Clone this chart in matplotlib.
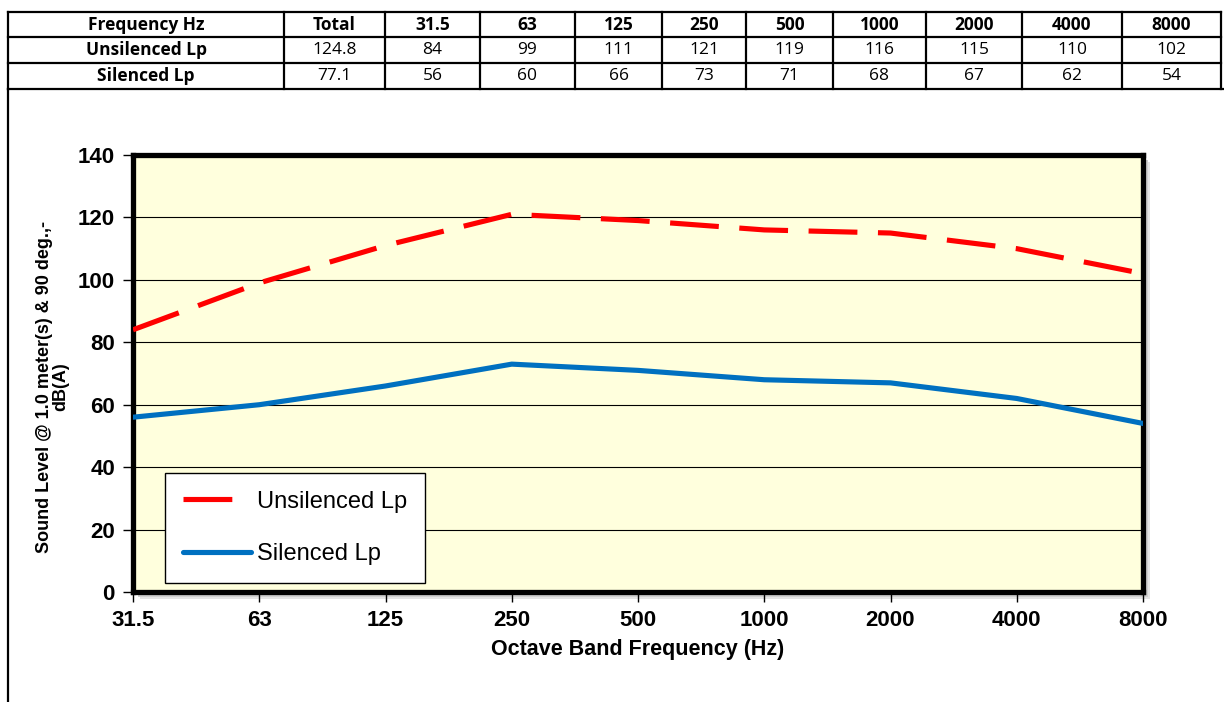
import matplotlib.pyplot as plt
from matplotlib.lines import Line2D
from matplotlib.patches import Rectangle

# ---- data ----
freqs = ["31.5", "63", "125", "250", "500", "1000", "2000", "4000", "8000"]
unsilenced = [84, 99, 111, 121, 119, 116, 115, 110, 102]
silenced = [56, 60, 66, 73, 71, 68, 67, 62, 54]
total_unsilenced = "124.8"
total_silenced = "77.1"

row_labels = ["Frequency Hz", "Unsilenced Lp", "Silenced Lp"]
header = ["Total"] + freqs
rows = [
    [total_unsilenced] + [str(v) for v in unsilenced],
    [total_silenced] + [str(v) for v in silenced],
]

W, H = 1224, 702
plt.rcParams['font.family'] = ['Liberation Sans', 'DejaVu Sans']
fig = plt.figure(figsize=(W / 100, H / 100), dpi=100)


def fx(px):
    return px / W


def fy(py):
    return 1 - py / H


# ---- table at top (figure coords, pixels) ----
col_edges = [8, 284, 385, 480, 575, 662, 746, 833, 926, 1022, 1122, 1221]
row_edges = [12, 37, 63, 89]

for x in col_edges:
    fig.add_artist(Line2D([fx(x), fx(x)], [fy(row_edges[0]), fy(row_edges[-1])],
                          color="black", lw=1.6))
for y in row_edges[:-1]:
    fig.add_artist(Line2D([fx(col_edges[0]), fx(col_edges[-1])], [fy(y), fy(y)],
                          color="black", lw=1.6))
# bottom line of the table spans the page, and the page frame on the left
fig.add_artist(Line2D([fx(8), fx(1224)], [fy(89), fy(89)], color="black", lw=1.6))
fig.add_artist(Line2D([fx(8), fx(8)], [fy(89), fy(702)], color="black", lw=1.6))

tkw = dict(ha="center", va="center", fontsize=12.5, family=["Open Sans", "DejaVu Sans"])
for r, lab in enumerate(row_labels):
    yc = (row_edges[r] + row_edges[r + 1]) / 2
    fig.text(fx((col_edges[0] + col_edges[1]) / 2), fy(yc), lab, fontweight="bold", **tkw)
for c, h in enumerate(header):
    xc = (col_edges[c + 1] + col_edges[c + 2]) / 2
    fig.text(fx(xc), fy((row_edges[0] + row_edges[1]) / 2), h, fontweight="bold", **tkw)
    for r, vals in enumerate(rows):
        yc = (row_edges[r + 1] + row_edges[r + 2]) / 2
        fig.text(fx(xc), fy(yc), vals[c], **tkw)

# ---- chart ----
left, right, top, bottom = 133, 1143, 155, 592
ax = fig.add_axes([fx(left), fy(bottom), fx(right - left), (bottom - top) / H])

# soft drop shadow behind the plot frame
for off, col in [(7, "#e4e4e4"), (5, "#cfcfcf")]:
    fig.add_artist(Rectangle((fx(left + off), fy(bottom + off)), fx(right - left),
                             (bottom - top) / H, facecolor=col, edgecolor="none", zorder=-1))

ax.set_facecolor("#FFFFDD")
x = range(len(freqs))
ax.plot(x, unsilenced, color="#FF0000", lw=3.7, dashes=(9.5, 4),
        label="Unsilenced Lp", dash_capstyle="butt", zorder=3)
ax.plot(x, silenced, color="#0070C0", lw=3.7, label="Silenced Lp",
        solid_capstyle="round", zorder=3)

ax.set_xlim(0, len(freqs) - 1)
ax.set_ylim(0, 140)
ax.set_yticks(range(0, 141, 20))
ax.set_xticks(list(x))
ax.set_xticklabels(freqs)
ax.grid(axis="y", color="black", lw=0.8)
ax.set_axisbelow(True)
for s in ax.spines.values():
    s.set_linewidth(3.8)
    s.set_color("black")
ax.tick_params(axis="both", direction="out", length=7, width=1, labelsize=16, pad=6)
for t in ax.get_xticklabels() + ax.get_yticklabels():
    t.set_fontweight("bold")

ax.set_xlabel("Octave Band Frequency (Hz)", fontsize=15.5, fontweight="bold", labelpad=6)
ax.set_ylabel("Sound Level @ 1.0 meter(s) & 90 deg.,-\ndB(A)", fontsize=13,
              fontweight="bold", linespacing=0.95)
ax.yaxis.set_label_coords(-0.063, 0.47)

leg = ax.legend(loc="lower left", bbox_to_anchor=(0.0317, 0.0206), borderaxespad=0,
                fontsize=17, handlelength=2.9, labelspacing=1.3, borderpad=0.75,
                fancybox=False, framealpha=1, edgecolor="black", handletextpad=0.25)
leg.get_frame().set_linewidth(1)

fig.savefig("out.png", dpi=100)
